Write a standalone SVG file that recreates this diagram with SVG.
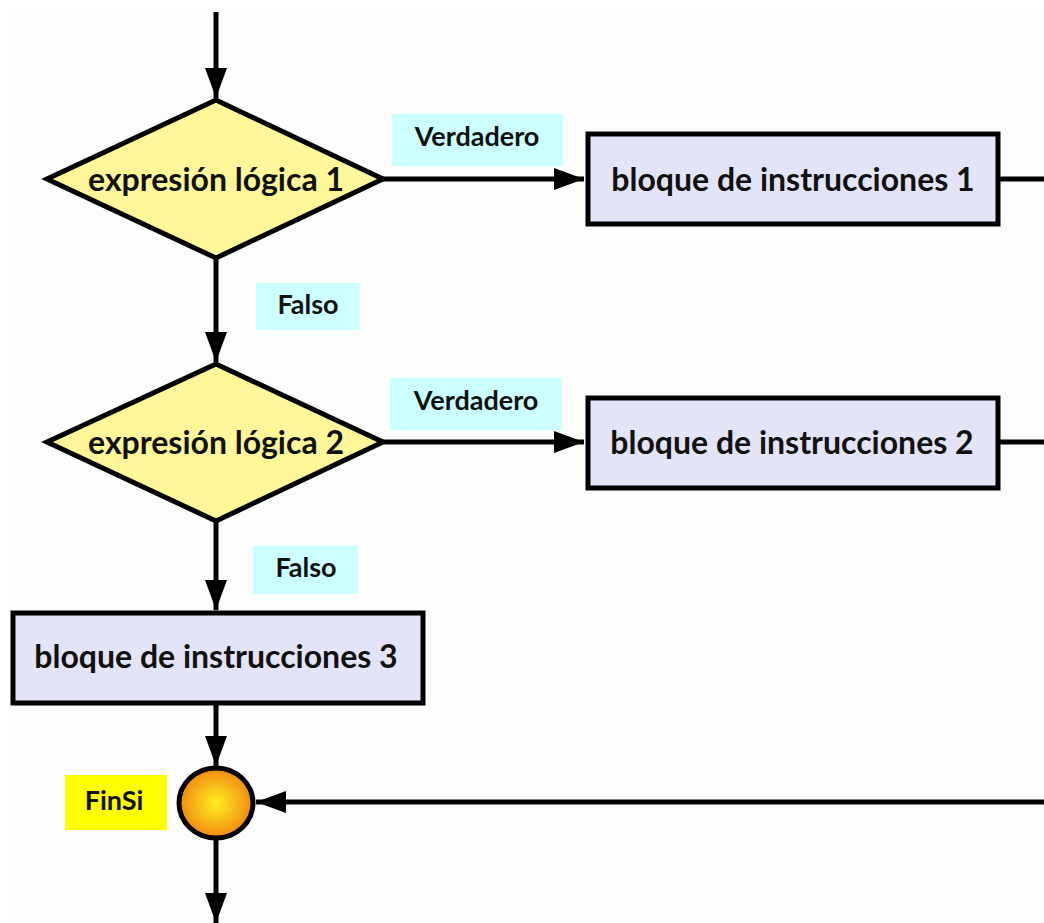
<svg xmlns="http://www.w3.org/2000/svg" width="1044" height="923" viewBox="0 0 1044 923">
<style>
.t{font-family:Lato,"Open Sans","Liberation Sans",sans-serif;font-weight:bold;fill:#111;text-anchor:middle;dominant-baseline:central}
.big{font-size:32px}
.lbl{font-size:27px}
.ln{stroke:#000;stroke-width:5;fill:none}
.dia{fill:#fff799;stroke:#000;stroke-width:5;stroke-linejoin:miter}
.box{fill:#e4e4f8;stroke:#000;stroke-width:5}
.cy{fill:#ccffff}
</style>
<defs>
<marker id="ah" markerUnits="userSpaceOnUse" markerWidth="30" markerHeight="22" refX="30" refY="11" orient="auto">
<path d="M0,0 L30,11 L0,22 z" fill="#000"/>
</marker>
<radialGradient id="og" cx="50%" cy="50%" r="50%">
<stop offset="0" stop-color="#ffee22"/>
<stop offset="1" stop-color="#f08a10"/>
</radialGradient>
</defs>
<rect x="0" y="0" width="1044" height="923" fill="#ffffff"/>
<rect x="8" y="8" width="1036" height="915" fill="#fcfdfc"/>
<g id="connectors">
<line class="ln" x1="216" y1="12" x2="216" y2="98" marker-end="url(#ah)"/>
<line class="ln" x1="383" y1="179" x2="584" y2="179" marker-end="url(#ah)"/>
<line class="ln" x1="998" y1="179" x2="1044" y2="179"/>
<line class="ln" x1="216" y1="258" x2="216" y2="362" marker-end="url(#ah)"/>
<line class="ln" x1="383" y1="442" x2="584" y2="442" marker-end="url(#ah)"/>
<line class="ln" x1="998" y1="442" x2="1044" y2="442"/>
<line class="ln" x1="216" y1="521" x2="216" y2="610" marker-end="url(#ah)"/>
<line class="ln" x1="216" y1="704" x2="216" y2="766" marker-end="url(#ah)"/>
<line class="ln" x1="1044" y1="802" x2="256" y2="802" marker-end="url(#ah)"/>
<line class="ln" x1="216" y1="838" x2="216" y2="923" marker-end="url(#ah)"/>
</g>
<g id="lbl-v1"><rect class="cy" x="392" y="114" width="171" height="52"/><text class="t lbl" x="477" y="135">Verdadero</text></g>
<g id="lbl-f1"><rect class="cy" x="256" y="283" width="104" height="47"/><text class="t lbl" x="308" y="303">Falso</text></g>
<g id="lbl-v2"><rect class="cy" x="390" y="378" width="172" height="52"/><text class="t lbl" x="476" y="399">Verdadero</text></g>
<g id="lbl-f2"><rect class="cy" x="253" y="546" width="105" height="48"/><text class="t lbl" x="306" y="566">Falso</text></g>
<g id="dec1"><polygon class="dia" points="216,100 383,179 216,258 47,179"/><text class="t big" x="216" y="178">expresión lógica 1</text></g>
<g id="dec2"><polygon class="dia" points="216,364 383,442 216,521 47,442"/><text class="t big" x="216" y="441">expresión lógica 2</text></g>
<g id="blk1"><rect class="box" x="588" y="134" width="410" height="90"/><text class="t big" x="793" y="178">bloque de instrucciones 1</text></g>
<g id="blk2"><rect class="box" x="588" y="398" width="410" height="90"/><text class="t big" x="792" y="441">bloque de instrucciones 2</text></g>
<g id="blk3"><rect class="box" x="13" y="613" width="410" height="90"/><text class="t big" x="216" y="655">bloque de instrucciones 3</text></g>
<g id="finsi"><rect x="65" y="775" width="102" height="55" fill="#ffff00"/><text class="t lbl" x="114" y="799">FinSi</text>
<ellipse cx="216" cy="803" rx="37" ry="35" fill="url(#og)" stroke="#000" stroke-width="5"/></g>
</svg>
